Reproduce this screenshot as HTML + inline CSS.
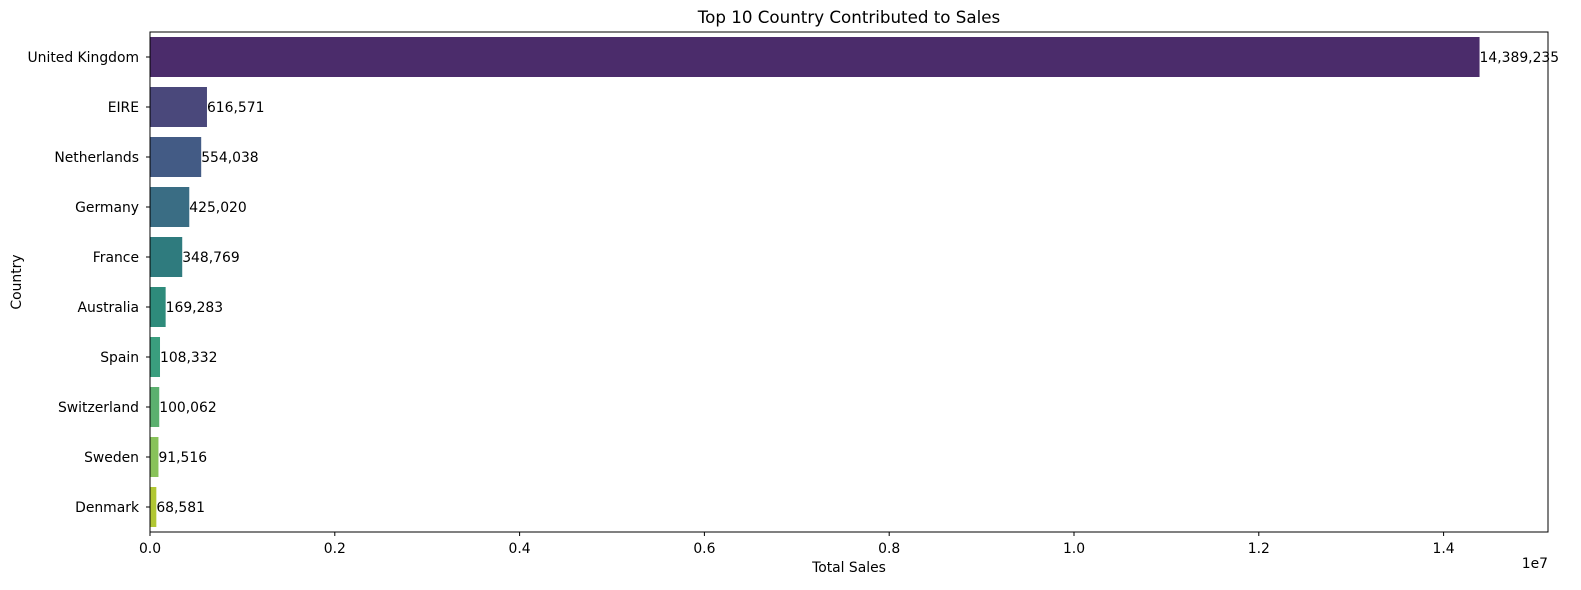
<!DOCTYPE html>
<html><head><meta charset="utf-8"><style>
body{margin:0;background:#fff;}
svg{display:block;font-family:"DejaVu Sans","Liberation Sans",sans-serif;}
</style></head><body>
<svg id="chart" width="1581" height="590" xmlns="http://www.w3.org/2000/svg"></svg>
<script>
const countries=["United Kingdom","EIRE","Netherlands","Germany","France","Australia","Spain","Switzerland","Sweden","Denmark"];
const sales=[14389235,616571,554038,425020,348769,169283,108332,100062,91516,68581];
const colors=["#4b2c6b","#4a487b","#435b85","#3a6d84","#2f7b7e","#2e8b7b","#3a9e7e","#5bb06f","#88c25a","#b1c733"];
const xTicks=[0,0.2,0.4,0.6,0.8,1.0,1.2,1.4];
const xTickLabels=["0.0","0.2","0.4","0.6","0.8","1.0","1.2","1.4"];
const L=150,R=1548,T=32,B=532;
const xmax=15.13e6;
const FS=13.9;
const svg=document.getElementById('chart');
const NS="http://www.w3.org/2000/svg";
function xs(v){return L+(v/xmax)*(R-L);}
const band=(B-T)/countries.length;
function yc(i){return T+band*(i+0.5);}
function mk(tag,attrs,parent){const e=document.createElementNS(NS,tag);for(const k in attrs)e.setAttribute(k,attrs[k]);(parent||svg).appendChild(e);return e;}
countries.forEach((c,i)=>{
  const r=mk('rect',{x:L,y:yc(i)-20,width:xs(sales[i])-L,height:40,fill:colors[i]});
  
  
  const t=mk('text',{x:xs(sales[i]),y:yc(i)+5,'font-size':FS,fill:'#000'});
  t.textContent=sales[i].toLocaleString('en-US');
  
  
  mk('line',{x1:L-4,x2:L,y1:yc(i),y2:yc(i),stroke:'#000','stroke-width':1});
  const l=mk('text',{x:L-11,y:yc(i)+5,'font-size':FS,'text-anchor':'end',fill:'#000'});
  l.textContent=c;
  
  
});
xTicks.forEach((v,i)=>{
  const x=xs(v*1e7);
  mk('line',{x1:x,x2:x,y1:B,y2:B+4,stroke:'#000','stroke-width':1});
  const t=mk('text',{x:x,y:B+21,'font-size':FS,'text-anchor':'middle',fill:'#000'});
  t.textContent=xTickLabels[i];
  
  
});
const frame=mk('rect',{x:L,y:T,width:R-L,height:B-T,fill:'none',stroke:'#000','stroke-width':1});


const off=mk('text',{x:R,y:B+36,'font-size':FS,'text-anchor':'end'});off.textContent='1e7';


const xt=mk('text',{x:(L+R)/2,y:572,'font-size':FS,'text-anchor':'middle'});xt.textContent='Total Sales';


const yt=mk('text',{x:21,y:(T+B)/2,'font-size':FS,'text-anchor':'middle',transform:`rotate(-90 21 ${(T+B)/2})`});yt.textContent='Country';


const ti=mk('text',{x:(L+R)/2,y:23,'font-size':16.7,'text-anchor':'middle'});ti.textContent='Top 10 Country Contributed to Sales';


</script>
</body></html>
